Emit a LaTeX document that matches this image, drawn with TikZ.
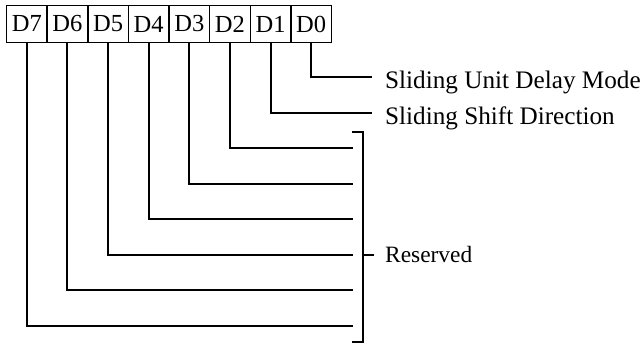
\documentclass[tikz,border=0pt]{standalone}
\usepackage{fontspec}
\setmainfont{Liberation Serif}
\begin{document}
\begin{tikzpicture}[x=1pt,y=-1pt,
  bitbox/.style={draw,line width=1.5pt,minimum width=40.625pt,minimum height=37pt,inner sep=0pt,
    font=\fontsize{24.5}{28}\selectfont},
  wire/.style={line width=2pt},
  lbl/.style={anchor=base west,inner sep=0pt,font=\fontsize{25.2}{28}\selectfont}]
\useasboundingbox (0,0) rectangle (643,343);
% bit boxes
\foreach \i/\k in {7/0,6/1,5/2,4/3,3/4,2/5,1/6,0/7}{
  \node[bitbox] (b\i) at ({6.5+40.625*(\k+0.5)},24) {D\i};
}
% labels
\node[lbl] (m0) at (385,88.5) {Sliding Unit Delay Mode};
\node[lbl] (m1) at (385,124) {Sliding Shift Direction};
\node[lbl,font=\fontsize{23.4}{28}\selectfont] (mr) at (385,262.5) {Reserved};
% wire ends
\coordinate (e0) at (372,77);
\coordinate (e1) at (372,112.6);
\foreach \i in {2,...,7}{
  \coordinate (e\i) at (352.5,{77+35.57*\i});
}
\foreach \i in {0,...,7}{
  \draw[wire] (b\i.south) |- (e\i);
}
% bracket
\coordinate (bt) at (352.5,131.7);
\coordinate (bb) at (352.5,341.7);
\coordinate (bm) at (362.5,254.7);
\coordinate (tk) at (374,254.7);
\draw[wire,line cap=rect] (bt) -| (bm) |- (bb);
\draw[wire] (bm) -- (tk);
\end{tikzpicture}
\end{document}
